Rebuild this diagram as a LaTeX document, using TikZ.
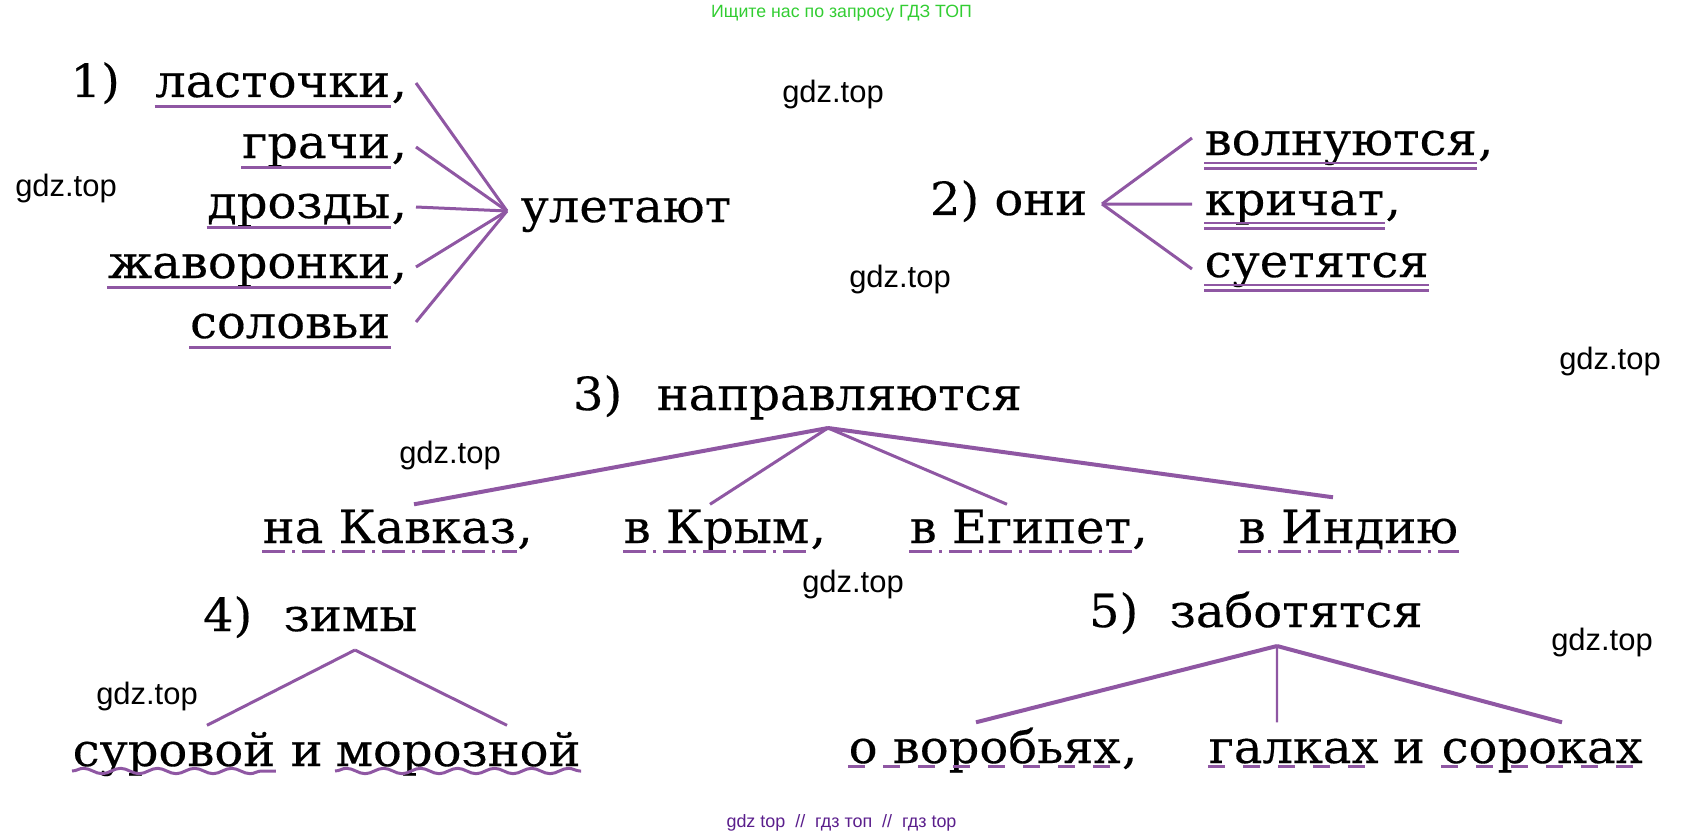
\documentclass[tikz,border=0pt]{standalone}
\usepackage{fontspec}
\setmainfont{DejaVu Serif}[FakeStretch=1.05, FakeBold=0.3]
\newfontfamily\marksans{Liberation Sans}
\usetikzlibrary{positioning, decorations.pathmorphing}
\usepackage{xcolor}
\definecolor{lilac}{RGB}{143,87,163}
\definecolor{plum}{RGB}{90,30,140}
\definecolor{leaf}{RGB}{50,205,50}

\begin{document}
\begin{tikzpicture}[%
    every node/.style={%
      font=\fontsize{13}{15}\selectfont,
      text=black,
      inner sep=0pt
    },
    word/.style={text height=2.2mm, text depth=0mm},
    tall/.style={text height=3.8mm, text depth=0mm},
    taller/.style={text height=4mm, text depth=0mm},
    wm/.style={font=\marksans\fontsize{8.8}{10}\selectfont},
    link/.style={draw=lilac, line width=0.3mm},
    thick link/.style={draw=lilac, line width=0.4mm},
    subj/.style={draw=lilac, line width=0.3mm},
    pred/.style={draw=lilac, line width=0.22mm},
    obj/.style={draw=lilac, line width=0.3mm,
      dash pattern=on 2.3mm off 0.7mm on 0.3mm off 0.7mm},
    attr/.style={draw=lilac, line width=0.3mm, decorate,
      decoration={snake, segment length=3.7mm, amplitude=0.27mm}},
    adv/.style={draw=lilac, line width=0.33mm, dash pattern=on 1.7mm off 1.8mm}
  ]
  \useasboundingbox (0,0) rectangle (16.85,-8.37);

  % header and footer
  \node[text=leaf, font=\marksans\fontsize{5.05}{6}\selectfont, anchor=base]
    (head) at (8.415,-0.17)
    {Ищите нас по запросу ГДЗ ТОП};
  \node[text=plum, font=\marksans\fontsize{5.1}{6}\selectfont, anchor=base]
    (foot) at (8.415,-8.27)
    {gdz top \ // \ гдз топ \ // \ гдз top};

  % 1)
  \node[word, anchor=base east] (w1) at (3.91,-0.97) {ласточки};
  \node[anchor=base west] (c1) at (w1.base east) {,};
  \node[word, below=6.1mm of w1.base east, anchor=base east] (w2) {грачи};
  \node[anchor=base west] (c2) at (w2.base east) {,};
  \node[word, below=6mm of w2.base east, anchor=base east] (w3) {дрозды};
  \node[anchor=base west] (c3) at (w3.base east) {,};
  \node[word, below=6mm of w3.base east, anchor=base east] (w4) {жаворонки};
  \node[anchor=base west] (c4) at (w4.base east) {,};
  \node[word, below=6mm of w4.base east, anchor=base east] (w5) {соловьи};
  \node[word, left=3.4mm of w1.base west, anchor=base east] (n1) {1)};
  \node[word, anchor=base west, inner xsep=1.3mm] (fly) at (5.07,-2.22) {улетают};

  \draw[subj] ([yshift=-0.95mm]w1.base west) -- ([yshift=-0.95mm]w1.base east);
  \draw[subj] ([yshift=-0.95mm]w2.base west) -- ([yshift=-0.95mm]w2.base east);
  \draw[subj] ([yshift=-0.95mm]w3.base west) -- ([yshift=-0.95mm]w3.base east);
  \draw[subj] ([yshift=-0.95mm]w4.base west) -- ([yshift=-0.95mm]w4.base east);
  \draw[subj] ([yshift=-0.95mm]w5.base west) -- ([yshift=-0.95mm]w5.base east);
  \draw[link] ([xshift=2.5mm, yshift=0.3mm]w1.east) -- (fly.west);
  \draw[link] ([xshift=2.5mm]w2.east) -- (fly.west);
  \draw[link] ([xshift=2.5mm]w3.east) -- (fly.west);
  \draw[link] ([xshift=2.5mm]w4.east) -- (fly.west);
  \draw[link] ([xshift=2.5mm, yshift=0.5mm]w5.east) -- (fly.west);

  % 2)
  \node[word, anchor=base east, inner xsep=1.4mm] (oni) at (11.02,-2.15) {2)~они};
  \node[word, anchor=base west] (v1) at (12.04,-1.55) {волнуются};
  \node[anchor=base west] (c5) at (v1.base east) {,};
  \node[word, below=6mm of v1.base west, anchor=base west] (v2) {кричат};
  \node[anchor=base west] (c6) at (v2.base east) {,};
  \node[word, below=6.2mm of v2.base west, anchor=base west] (v3) {суетятся};

  \draw[link] (oni.east) -- ([xshift=-1.2mm, yshift=0.6mm]v1.west);
  \draw[link] (oni.east) -- ([xshift=-1.2mm]v2.west);
  \draw[link] (oni.east) -- ([xshift=-1.2mm, yshift=-0.3mm]v3.west);
  \draw[pred] ([yshift=-0.8mm]v1.base west) -- ([yshift=-0.8mm]v1.base east);
  \draw[pred] ([yshift=-1.35mm]v1.base west) -- ([yshift=-1.35mm]v1.base east);
  \draw[pred] ([yshift=-0.8mm]v2.base west) -- ([yshift=-0.8mm]v2.base east);
  \draw[pred] ([yshift=-1.35mm]v2.base west) -- ([yshift=-1.35mm]v2.base east);
  \draw[pred] ([yshift=-0.8mm]v3.base west) -- ([yshift=-0.8mm]v3.base east);
  \draw[pred] ([yshift=-1.35mm]v3.base west) -- ([yshift=-1.35mm]v3.base east);

  % 3)
  \node[word, anchor=base west] (head3) at (6.56,-4.10) {направляются};
  \node[word, left=3.3mm of head3.base west, anchor=base east] (n3) {3)};
  \coordinate (hub3) at (8.28,-4.28);
  \node[tall, anchor=base west] (k1) at (2.62,-5.43) {на Кавказ};
  \node[anchor=base west] (c7) at (k1.base east) {,};
  \node[tall, anchor=base west] (k2) at (6.23,-5.43) {в Крым};
  \node[anchor=base west] (c8) at (k2.base east) {,};
  \node[tall, anchor=base west] (k3) at (9.09,-5.43) {в Египет};
  \node[anchor=base west] (c9) at (k3.base east) {,};
  \node[tall, anchor=base west] (k4) at (12.38,-5.43) {в Индию};

  \draw[thick link] (hub3) -- ([xshift=15.2mm]k1.north west);
  \draw[link] (hub3) -- ([xshift=8.7mm]k2.north west);
  \draw[link] (hub3) -- ([xshift=9.8mm]k3.north west);
  \draw[thick link] (hub3) -- ([xshift=9.5mm, yshift=0.7mm]k4.north west);
  \draw[obj] ([yshift=-0.8mm]k1.base west) -- ([yshift=-0.8mm]k1.base east);
  \draw[obj] ([yshift=-0.8mm]k2.base west) -- ([yshift=-0.8mm]k2.base east);
  \draw[obj] ([yshift=-0.8mm]k3.base west) -- ([yshift=-0.8mm]k3.base east);
  \draw[obj] ([yshift=-0.8mm]k4.base west) -- ([yshift=-0.8mm]k4.base east);

  % 4)
  \node[word, anchor=base west] (head4) at (2.83,-6.31) {зимы};
  \node[word, left=3mm of head4.base west, anchor=base east] (n4) {4)};
  \coordinate (hub4) at (3.55,-6.50);
  \node[taller, anchor=base west] (s1) at (0.72,-7.66) {суровой};
  \node[taller, right=1.4mm of s1.base east, anchor=base west] (and4) {и};
  \node[taller, anchor=base west] (s2) at (3.35,-7.66) {морозной};

  \draw[link] (hub4) -- ([xshift=13.5mm]s1.north west);
  \draw[link] (hub4) -- ([xshift=17.2mm]s2.north west);
  \draw[attr] ([yshift=-0.5mm]s1.base west) -- ([yshift=-0.5mm]s1.base east);
  \draw[attr] ([yshift=-0.5mm]s2.base west) -- ([yshift=-0.5mm]s2.base east);

  % 5)
  \node[word, anchor=base west] (head5) at (11.69,-6.27) {заботятся};
  \node[word, left=3mm of head5.base west, anchor=base east] (n5) {5)};
  \coordinate (hub5) at (12.77,-6.46);
  \node[taller, anchor=base west] (b1) at (8.48,-7.63) {о воробьях};
  \node[anchor=base west] (c10) at (b1.base east) {,};
  \node[taller, anchor=base west] (b2) at (12.08,-7.63) {галках};
  \node[taller, right=1.3mm of b2.base east, anchor=base west] (and5) {и};
  \node[taller, anchor=base west] (b3) at (14.41,-7.63) {сороках};

  \draw[thick link] (hub5) -- ([xshift=12.8mm]b1.north west);
  \draw[pred] (hub5) -- ([xshift=6.9mm]b2.north west);
  \draw[thick link] (hub5) -- ([xshift=12.1mm]b3.north west);
  \draw[adv] ([yshift=-0.35mm]b1.base west) -- ([yshift=-0.35mm]b1.base east);
  \draw[adv] ([yshift=-0.35mm]b2.base west) -- ([yshift=-0.35mm]b2.base east);
  \draw[adv] ([yshift=-0.35mm]b3.base west) -- ([yshift=-0.35mm]b3.base east);

  % watermarks
  \node[wm] (g1) at (8.33,-0.95) {gdz.top};
  \node[wm] (g2) at (0.66,-1.89) {gdz.top};
  \node[wm] (g3) at (9.00,-2.80) {gdz.top};
  \node[wm] (g4) at (16.10,-3.62) {gdz.top};
  \node[wm] (g5) at (4.50,-4.55) {gdz.top};
  \node[wm] (g6) at (8.53,-5.84) {gdz.top};
  \node[wm] (g7) at (1.47,-6.96) {gdz.top};
  \node[wm] (g8) at (16.02,-6.43) {gdz.top};
\end{tikzpicture}
\end{document}
